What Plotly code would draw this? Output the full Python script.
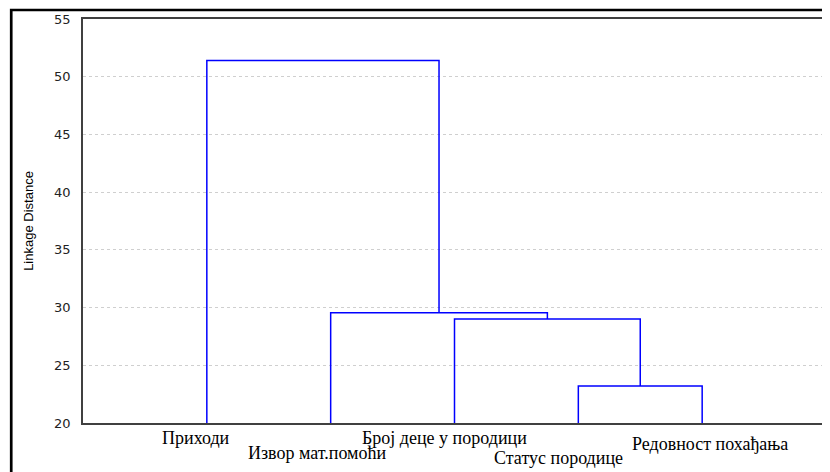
import plotly.graph_objects as go

# ---- data ----
leaf_labels = ["Приходи", "Извор мат.помоћи", "Број деце у породици",
               "Статус породице", "Редовност похађања"]
# merges in scipy style: indices < 5 are leaves, >= 5 are earlier clusters
merge_pairs = [(3, 4), (2, 5), (1, 6), (0, 7)]
merge_heights = [23.2, 29.0, 29.55, 51.4]
y_ticks = [20, 25, 30, 35, 40, 45, 50, 55]

# ---- style ----
label_row_shift = [-15, -30, -15, -35, -21]
label_x_shift = [-11, -14, -10, -20, 8]
BLUE = "#0000ff"

n = len(leaf_labels)
pos = {i: (i + 1.0, 20.0) for i in range(n)}
fig = go.Figure()
for k, ((a, b), h) in enumerate(zip(merge_pairs, merge_heights)):
    xa, ya = pos[a]
    xb, yb = pos[b]
    fig.add_trace(go.Scatter(x=[xa, xa, xb, xb], y=[ya, h, h, yb], mode="lines",
                             line=dict(color=BLUE, width=1.5), showlegend=False,
                             hoverinfo="skip", cliponaxis=False))
    pos[n + k] = ((xa + xb) / 2.0, h)

for i, lab in enumerate(leaf_labels):
    fig.add_annotation(x=i + 1, y=20, xref="x", yref="y", text=lab, showarrow=False,
                       xanchor="center", yanchor="middle",
                       xshift=label_x_shift[i], yshift=label_row_shift[i],
                       font=dict(family="Liberation Serif, Times New Roman, serif",
                                 size=18, color="#000000"))

# outer black frame (left & top edges visible in the reference)
fig.add_shape(type="rect", xref="paper", yref="paper", x0=-0.0966, x1=1.2,
              y0=-0.3, y1=1.0223, line=dict(color="#000000", width=2.7),
              fillcolor="rgba(0,0,0,0)", layer="above")

# page body has an 8px margin, so the figure is 8px smaller and offset
fig.update_layout(
    width=822, height=464,
    margin=dict(l=75, r=2, t=11, b=49),
    paper_bgcolor="#ffffff", plot_bgcolor="#ffffff",
    font=dict(family="Liberation Sans, Arial, sans-serif", size=12, color="#000000"),
    xaxis=dict(range=[0, n + 1], showticklabels=False, showgrid=False, zeroline=False,
               showline=True, mirror=True, linecolor="#404040", linewidth=1.5, ticks=""),
    yaxis=dict(range=[20, 55], tickvals=y_ticks, showgrid=True, gridcolor="#cfcfcf",
               griddash="dot", gridwidth=1, zeroline=False, showline=True, mirror=True,
               linecolor="#404040", linewidth=1.5, ticks="", ticklabelstandoff=8,
               tickfont=dict(family="DejaVu Sans, sans-serif", size=13, color="#222222"),
               title=dict(text="Linkage Distance", standoff=18,
                          font=dict(family="Liberation Sans, Arial, sans-serif", size=13))),
)
fig.write_html("out.html")
